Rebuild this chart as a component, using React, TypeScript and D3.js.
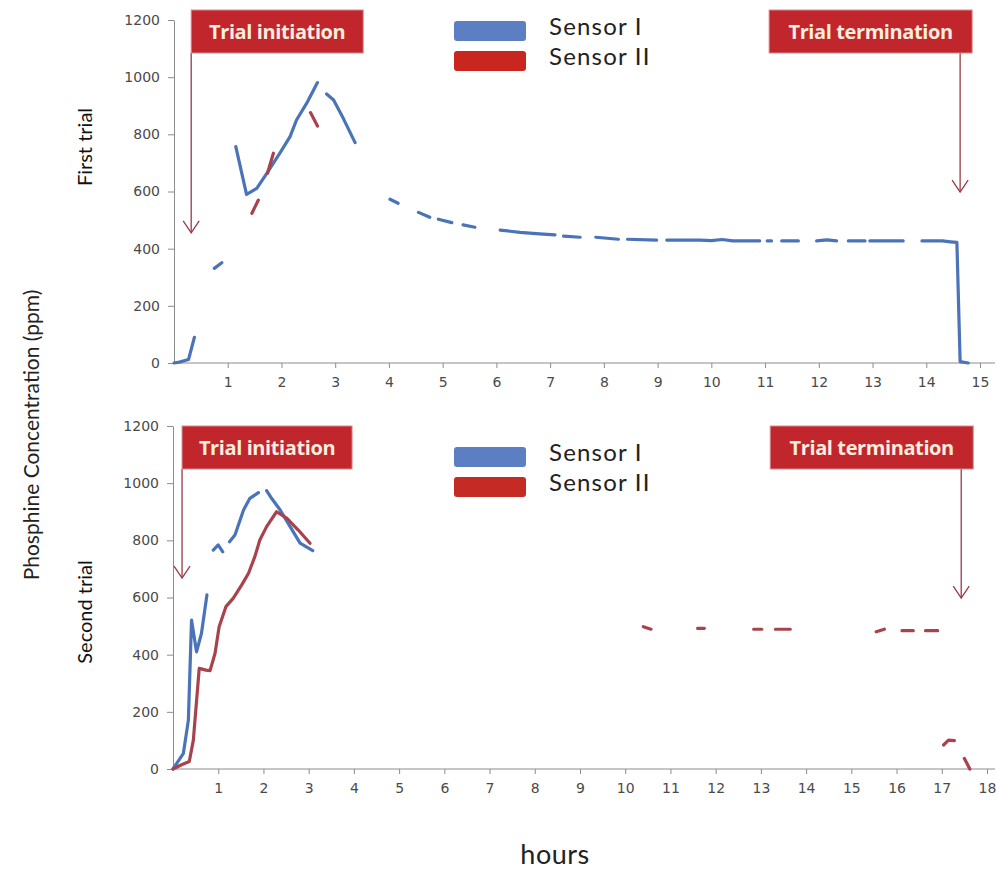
import React, { useEffect, useRef } from 'react';
import * as d3 from 'd3';

type Pt = [number, number] | null;

// First trial readings (hours, ppm). null = gap in the record
const trial1SensorI: Pt[] = [
  [0, 0], [0.1, 3], [0.27, 12], [0.38, 90], null,
  [0.75, 331], [0.89, 351], null,
  [1.15, 757], [1.35, 590], [1.54, 611], [1.73, 664], [1.97, 734], [2.16, 792], [2.28, 850], [2.47, 909], [2.67, 981], null,
  [2.84, 941], [2.97, 920], [3.15, 856], [3.37, 771], null,
  [4.02, 573], [4.17, 559], null,
  [4.55, 527], [4.76, 510], null,
  [4.92, 503], [5.17, 491], null,
  [5.38, 483], [5.6, 475], null,
  [6.07, 465], [6.44, 457], [6.8, 452], [7.09, 448], null,
  [7.25, 444], [7.56, 440], null,
  [7.85, 440], [8.27, 433], null,
  [8.44, 433], [8.98, 430], null,
  [9.17, 430], [9.5, 430], [9.79, 430], [10.0, 428], [10.2, 432], [10.4, 427], [10.9, 427], null,
  [11.04, 427], [11.12, 427], null,
  [11.31, 427], [11.62, 427], null,
  [11.96, 427], [12.15, 431], [12.33, 427], null,
  [12.55, 427], [12.86, 427], null,
  [12.95, 427], [13.57, 427], null,
  [13.92, 427], [14.3, 427], [14.45, 424], [14.57, 422], [14.63, 5], [14.78, 0],
];

const trial1SensorII: Pt[] = [
  [1.45, 524], [1.57, 570], null,
  [1.74, 664], [1.85, 734], null,
  [2.54, 876], [2.67, 829],
];

// Second trial readings
const trial2SensorI: Pt[] = [
  [0, 0], [0.23, 55], [0.34, 171], [0.41, 521], [0.52, 410], [0.63, 475], [0.75, 609], null,
  [0.89, 766], [1.0, 784], [1.1, 760], null,
  [1.25, 795], [1.37, 819], [1.56, 906], [1.7, 947], [1.89, 967], null,
  [2.07, 974], [2.18, 947], [2.37, 906], [2.59, 848], [2.81, 790], [3.09, 764],
];

const trial2SensorII: Pt[] = [
  [0, 0], [0.19, 15], [0.36, 26], [0.45, 101], [0.58, 352], [0.73, 346], [0.82, 344], [0.93, 405], [1.02, 498],
  [1.17, 568], [1.33, 597], [1.52, 644], [1.67, 685], [1.81, 743], [1.92, 801], [2.07, 848], [2.29, 900],
  [2.52, 877], [2.77, 836], [3.03, 790], null,
  [10.4, 498], [10.57, 489], null,
  [11.6, 492], [11.75, 492], null,
  [12.84, 489], [13.02, 489], null,
  [13.32, 489], [13.65, 489], null,
  [15.55, 480], [15.73, 489], null,
  [16.12, 484], [16.37, 484], null,
  [16.64, 484], [16.91, 484], null,
  [17.04, 84], [17.15, 101], [17.28, 99], null,
  [17.5, 37], [17.62, 0],
];

const yTicks = [0, 200, 400, 600, 800, 1000, 1200];
const seriesNames = ['Sensor I', 'Sensor II'];
const panelLabels = ['First trial', 'Second trial'];
// [hours, ppm at arrow tip]
const trial1Markers = { start: [0.32, 455], end: [14.63, 598] };
const trial2Markers = { start: [0.2, 668], end: [17.43, 598] };

const BLUE = '#4a73b8';
const RED = '#a8434d';
const ARROW = '#9a3a48';
const BOX = '#c1262c';
const LABEL_FONT = 'Lato, sans-serif';

function App() {
  const ref = useRef<SVGSVGElement>(null);

  useEffect(() => {
    const svg = d3.select(ref.current);
    svg.selectAll('*').remove();

    const panels = [
      {
        data: [trial1SensorI, trial1SensorII], maxH: 15, x0: 174, x1: 980, top: 20, bottom: 363,
        markers: trial1Markers, boxTop: 10, label: panelLabels[0], labelY: 147,
        legendY: 21, legendRed: '#c8261f', axisEnd: 995,
      },
      {
        data: [trial2SensorI, trial2SensorII], maxH: 18, x0: 173, x1: 987, top: 426, bottom: 769,
        markers: trial2Markers, boxTop: 426, label: panelLabels[1], labelY: 612,
        legendY: 447, legendRed: '#c62a24', axisEnd: 995,
      },
    ];

    panels.forEach((p) => {
      const x = d3.scaleLinear().domain([0, p.maxH]).range([p.x0, p.x1]);
      const y = d3.scaleLinear().domain([0, 1200]).range([p.bottom, p.top]);
      const g = svg.append('g');

      // x axis
      const xAxis = g.append('g')
        .attr('transform', `translate(0,${p.bottom})`)
        .call(d3.axisBottom(x).tickValues(d3.range(1, p.maxH + 1)).tickSize(5).tickSizeOuter(0).tickPadding(9));
      xAxis.select('.domain').remove();
      xAxis.append('line').attr('x1', p.x0).attr('x2', p.axisEnd).attr('stroke', '#8c8c8c');

      // y axis
      const yAxis = g.append('g')
        .attr('transform', `translate(${p.x0},0)`)
        .call(d3.axisLeft(y).tickValues(yTicks).tickFormat(d3.format('d')).tickSize(6).tickSizeOuter(0).tickPadding(8));
      yAxis.select('.domain').attr('stroke', '#8c8c8c');

      [xAxis, yAxis].forEach((a) => {
        a.selectAll('line').attr('stroke', '#8c8c8c');
        a.selectAll('text')
          .attr('fill', '#4a4a4a')
          .style('font-family', 'DejaVu Sans, sans-serif')
          .style('font-size', '14px');
      });

      // series
      const line = d3.line<Pt>()
        .defined((d) => d !== null)
        .x((d) => x(d![0]))
        .y((d) => y(d![1]));
      p.data.forEach((series, i) => {
        g.append('path')
          .datum(series)
          .attr('fill', 'none')
          .attr('stroke', i === 0 ? BLUE : RED)
          .attr('stroke-width', 3.2)
          .attr('stroke-linejoin', 'round')
          .attr('stroke-linecap', 'round')
          .attr('d', line);
      });

      // trial initiation / termination call-outs
      const callouts = [
        { pos: p.markers.start, text: 'Trial initiation', w: p.maxH === 15 ? 172 : 170, anchorLeft: true },
        { pos: p.markers.end, text: 'Trial termination', w: 203, anchorLeft: false },
      ];
      callouts.forEach((c) => {
        const ax = x(c.pos[0]);
        const tipY = y(c.pos[1]);
        const bx = c.anchorLeft ? ax : ax + 12 - c.w;
        g.append('line')
          .attr('x1', ax).attr('x2', ax)
          .attr('y1', p.boxTop + 43).attr('y2', tipY)
          .attr('stroke', ARROW).attr('stroke-width', 1.3);
        g.append('path')
          .attr('d', `M${ax - 8},${tipY - 12}L${ax},${tipY}L${ax + 8},${tipY - 12}`)
          .attr('fill', 'none').attr('stroke', ARROW).attr('stroke-width', 1.3);
        g.append('rect')
          .attr('x', bx).attr('y', p.boxTop)
          .attr('width', c.w).attr('height', 43)
          .attr('fill', BOX).attr('stroke', '#d98a8a').attr('stroke-width', 1);
        g.append('text')
          .attr('x', bx + c.w / 2).attr('y', p.boxTop + 29)
          .attr('text-anchor', 'middle')
          .attr('fill', '#fbeedf')
          .style('font-family', 'Open Sans, sans-serif')
          .style('font-weight', 'bold')
          .style('font-size', '20px')
          .style('letter-spacing', '-0.4px')
          .text(c.text);
      });

      // legend
      seriesNames.forEach((name, i) => {
        g.append('rect')
          .attr('x', 454).attr('y', p.legendY + i * 30)
          .attr('width', 72).attr('height', 20).attr('rx', 3)
          .attr('fill', i === 0 ? '#5b7fc2' : p.legendRed);
        g.append('text')
          .attr('x', 549).attr('y', p.legendY + 14 + i * 30)
          .attr('fill', '#222')
          .style('font-family', LABEL_FONT)
          .style('font-size', '24px')
          .style('letter-spacing', '1.2px')
          .text(name);
      });

      // panel label
      g.append('text')
        .attr('transform', `translate(92,${p.labelY}) rotate(-90)`)
        .attr('text-anchor', 'middle')
        .attr('fill', '#111')
        .style('font-family', LABEL_FONT)
        .style('font-size', '20px')
        .text(p.label);
    });

    svg.append('text')
      .attr('transform', 'translate(39,435) rotate(-90)')
      .attr('text-anchor', 'middle')
      .attr('fill', '#222')
      .style('font-family', LABEL_FONT)
      .style('font-size', '21px')
      .text('Phosphine Concentration (ppm)');

    svg.append('text')
      .attr('x', 555).attr('y', 864)
      .attr('text-anchor', 'middle')
      .attr('fill', '#222')
      .style('font-family', LABEL_FONT)
      .style('font-size', '27px')
      .style('letter-spacing', '0.5px')
      .text('hours');
  }, []);

  return (
    <div style={{ position: 'absolute', left: 0, top: 0 }}>
      <svg ref={ref} width={997} height={871} style={{ display: 'block', background: '#fff' }} />
    </div>
  );
}

export default App;
